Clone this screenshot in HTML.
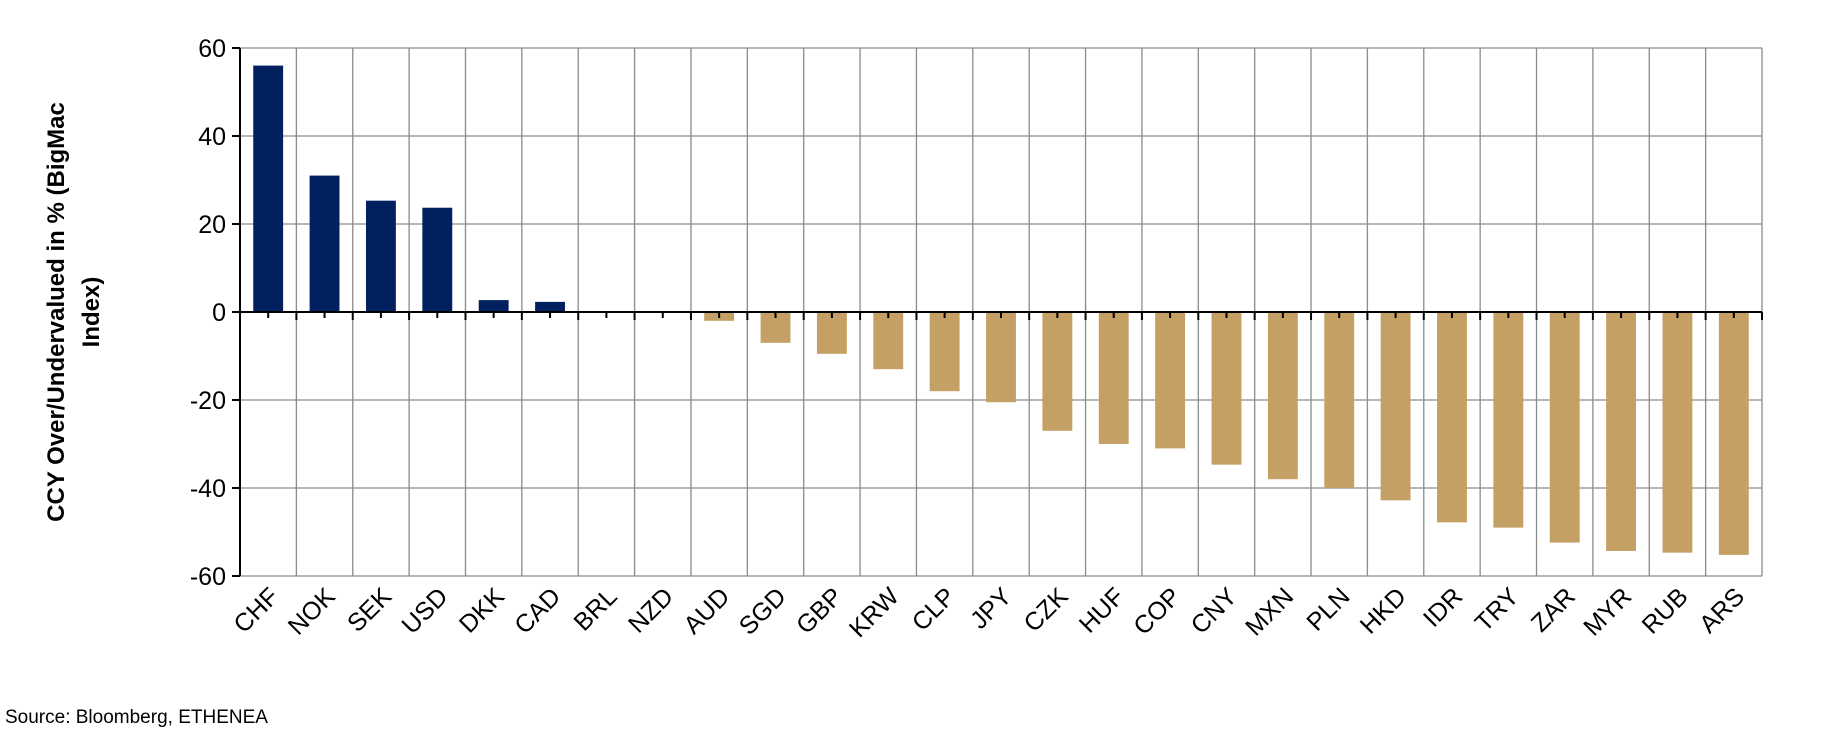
<!DOCTYPE html>
<html><head><meta charset="utf-8"><style>
body{margin:0;background:#fff;}
svg{display:block;font-family:"Liberation Sans",Arial,sans-serif;}
</style></head><body>
<svg id="chart" width="1831" height="736" viewBox="0 0 1831 736">
<g id="grid"></g>
<g id="bars"></g>
<g id="axes"></g>
<g id="labels"></g>
<text transform="translate(64,312) rotate(-90)" text-anchor="middle" font-size="24" font-weight="bold">CCY Over/Undervalued in % (BigMac</text>
<text transform="translate(99,312) rotate(-90)" text-anchor="middle" font-size="24" font-weight="bold">Index)</text>
<text x="5" y="723" font-size="19">Source: Bloomberg, ETHENEA</text>
</svg>
<script>
const categories=["CHF","NOK","SEK","USD","DKK","CAD","BRL","NZD","AUD","SGD","GBP","KRW","CLP","JPY","CZK","HUF","COP","CNY","MXN","PLN","HKD","IDR","TRY","ZAR","MYR","RUB","ARS"];
const values=[56,31,25.3,23.7,2.7,2.3,0,0,-2,-7,-9.5,-13,-18,-20.5,-27,-30,-31,-34.7,-38,-40,-42.8,-47.8,-49,-52.4,-54.3,-54.7,-55.2];
const yTicks=[60,40,20,0,-20,-40,-60];
const NS="http://www.w3.org/2000/svg";
const L=240,R=1762,T=48,B=576,yMin=-60,yMax=60;
const cw=(R-L)/categories.length;
const y=v=>T+(yMax-v)/(yMax-yMin)*(B-T);
const xc=i=>L+cw*(i+0.5);
function mk(tag,attrs,parent){const e=document.createElementNS(NS,tag);for(const k in attrs)e.setAttribute(k,attrs[k]);parent.appendChild(e);return e;}
const grid=document.getElementById('grid'),bars=document.getElementById('bars'),axes=document.getElementById('axes'),labels=document.getElementById('labels');
yTicks.forEach(t=>{
  const l=mk('line',{x1:L,x2:R,y1:y(t),y2:y(t),stroke:'#8c8c8c','stroke-width':1.3},grid);
  
  
  const tk=mk('line',{x1:L-8,x2:L,y1:y(t),y2:y(t),stroke:'#000','stroke-width':2},axes);
  
  
  const tx=mk('text',{x:L-14,y:y(t)+9,'text-anchor':'end','font-size':25},labels);
  tx.textContent=t;
  
  
});
for(let i=1;i<=categories.length;i++){
  const l=mk('line',{x1:L+cw*i,x2:L+cw*i,y1:T,y2:B,stroke:'#8c8c8c','stroke-width':1.3},grid);
  
  
}
const bw=cw*0.53;
categories.forEach((c,i)=>{
  const v=values[i];
  const r=mk('rect',{x:xc(i)-bw/2,y:Math.min(y(v),y(0)),width:bw,height:Math.abs(y(v)-y(0)),fill:v>=0?'#00205f':'#c4a064'},bars);
  
  
  const tx=mk('text',{transform:`translate(${xc(i)+12},${B+22}) rotate(-45)`,'text-anchor':'end','font-size':25},labels);
  tx.textContent=c;
  
  
  const mt=mk('line',{x1:xc(i),x2:xc(i),y1:y(0),y2:y(0)+6,stroke:'#000','stroke-width':2},axes);
  
  
});
for(let i=0;i<=categories.length;i++){
  const t=mk('line',{x1:L+cw*i,x2:L+cw*i,y1:y(0),y2:y(0)+8,stroke:'#000','stroke-width':2},axes);
  
  
}
const ya=mk('line',{x1:L,x2:L,y1:T,y2:B,stroke:'#000','stroke-width':2},axes);


const xa=mk('line',{x1:L,x2:R,y1:y(0),y2:y(0),stroke:'#000','stroke-width':2},axes);


</script>
</body></html>
